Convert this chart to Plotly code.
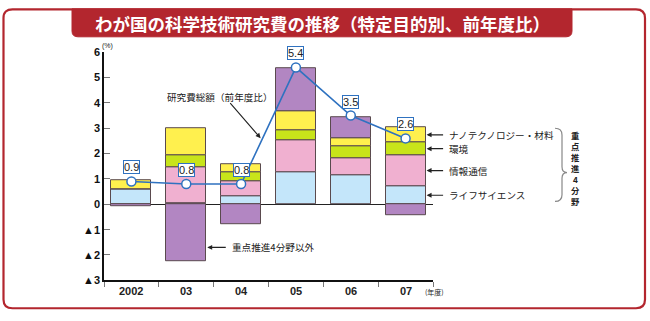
import plotly.graph_objects as go

W, H = 650, 321

years = ["2002", "03", "04", "05", "06", "07"]
life = [0.60, 0.05, 0.30, 1.28, 1.13, 0.72]
info = [0.00, 1.40, 0.62, 1.23, 0.70, 1.22]
env = [0.00, 0.50, 0.33, 0.42, 0.48, 0.51]
nano = [0.35, 1.05, 0.33, 0.75, 0.30, 0.58]
other = [-0.07, -2.25, -0.80, 1.68, 0.84, -0.43]
total = [0.9, 0.8, 0.8, 5.4, 3.5, 2.6]
total_labels = ["0.9", "0.8", "0.8", "5.4", "3.5", "2.6"]
ytick_vals = [-3, -2, -1, 0, 1, 2, 3, 4, 5, 6]
ytick_text = ["▲3", "▲2", "▲1", "0", "1", "2", "3", "4", "5", "6"]
seg_names = ["ライフサイエンス", "情報通信", "環境", "ナノテクノロジー・材料"]

C_LIFE, C_INFO, C_ENV, C_NANO, C_OTHER = "#c4e6fa", "#f0b0d0", "#c8e41a", "#fff04e", "#b286c2"
RED = "#b3262e"
BLUE = "#2f72c0"
EDGE = "#5a4a4e"
BARW = 0.73
JP = "Noto Sans CJK JP"
LAT = "Liberation Sans, DejaVu Sans, Arial"

def px(x):
    return x / W

def py(y):
    return 1 - y / H

xs = list(range(len(years)))
fig = go.Figure()
for vals, col in [(life, C_LIFE), (info, C_INFO), (env, C_ENV), (nano, C_NANO), (other, C_OTHER)]:
    fig.add_trace(go.Bar(x=xs, y=vals, width=BARW, marker=dict(color=col, line=dict(color=EDGE, width=1)),
                         showlegend=False, hoverinfo="skip"))
fig.add_trace(go.Scatter(x=xs, y=total, mode="lines+markers",
                         line=dict(color=BLUE, width=1.6),
                         marker=dict(size=9, color="white", line=dict(color=BLUE, width=1.5)),
                         showlegend=False, hoverinfo="skip"))

def A(**kw):
    kw.setdefault("xanchor", "center")
    kw.setdefault("yanchor", "middle")
    return kw

ann = []
for i, (v, t) in enumerate(zip(total, total_labels)):
    ann.append(A(x=i, y=v, xref="x", yref="y", text=t, showarrow=False, yshift=14,
                 font=dict(family=LAT, size=11, color="#222"),
                 bgcolor="white", bordercolor=BLUE, borderwidth=1, borderpad=0))
for i, y in enumerate(years):
    ann.append(A(x=i, y=py(296), xref="x", yref="paper", text="<b>" + y + "</b>", showarrow=False,
                 font=dict(family=LAT, size=11, color="#222")))
ann.append(A(x=px(423), y=py(297), xref="paper", yref="paper", text="(年度)", showarrow=False,
             xanchor="left", font=dict(family=JP, size=7, color="#222")))
ann.append(A(x=px(100), y=py(42), xref="paper", yref="paper", text="(%)", showarrow=False,
             xanchor="left", font=dict(family=LAT, size=7, color="#222")))

# right-side labels pointing to 07 segments
last = len(years) - 1
segs = [life[last], info[last], env[last], nano[last]]
base = 0
mids = []
for s in segs:
    mids.append(base + s / 2)
    base += s
for name, m in zip(seg_names, mids):
    ann.append(A(x=last + BARW / 2, y=m, xref="x", yref="y", text="", showarrow=True,
                 ax=19, ay=0, arrowhead=2, arrowsize=0.9, arrowwidth=1.1, arrowcolor="#222", standoff=1))
    ann.append(A(x=last + BARW / 2, y=m, xref="x", yref="y", text=name, showarrow=False,
                 xanchor="left", xshift=21,
                 font=dict(family=JP, size=9.6, color="#222")))

# 研究費総額 arrow
t = 0.38
ann.append(A(x=2 + t, y=total[2] + t * (total[3] - total[2]), xref="x", yref="y", text="",
             showarrow=True, ax=-33, ay=-38, arrowhead=2, arrowsize=0.9, arrowwidth=1.1,
             arrowcolor="#222", standoff=2))
ann.append(A(x=px(220), y=py(95), xref="paper", yref="paper", text="研究費総額（前年度比）",
             showarrow=False, font=dict(family=JP, size=9.6, color="#222")))
# 重点推進4分野以外
ann.append(A(x=1 + BARW / 2, y=-1.7, xref="x", yref="y", text="", showarrow=True, ax=21, ay=0,
             arrowhead=2, arrowsize=0.9, arrowwidth=1.1, arrowcolor="#222", standoff=1))
ann.append(A(x=1 + BARW / 2, y=-1.7, xref="x", yref="y", text="重点推進4分野以外", showarrow=False,
             xanchor="left", xshift=24, font=dict(family=JP, size=9.6, color="#222")))
# vertical text
for k, ch in enumerate("重点推進4分野"):
    ann.append(A(x=px(575), y=py(134.5 + 11.3 * k), xref="paper", yref="paper", text="<b>" + ch + "</b>",
                 showarrow=False, borderpad=0, font=dict(family=JP, size=8.3, color="#222")))
# title
ann.append(A(x=px(322), y=py(18), xref="paper", yref="paper",
             text="<b>わが国の科学技術研究費の推移（特定目的別、前年度比）</b>",
             showarrow=False, font=dict(family=JP, size=17.5, color="white")))

def P(x, y):
    return f"{px(x):.5f},{py(y):.5f}"

shapes = []
r = 9
L, T, R, B = 3.5, 3.5, 645, 314
border = (f"M {P(L, T + r)} Q {P(L, T)} {P(L + r, T)} L {P(R - r, T)} Q {P(R, T)} {P(R, T + r)} "
          f"L {P(R, B - r)} Q {P(R, B)} {P(R - r, B)} L {P(L + r, B)} Q {P(L, B)} {P(L, B - r)} Z")
shapes.append(dict(type="path", path=border, xref="paper", yref="paper", layer="below",
                   line=dict(color=RED, width=2.2)))
bl, br, bt, bb, rr = 72, 572, 3, 32, 6
banner = (f"M {P(bl, bt)} L {P(br, bt)} L {P(br, bb - rr)} Q {P(br, bb)} {P(br - rr, bb)} "
          f"L {P(bl + rr, bb)} Q {P(bl, bb)} {P(bl, bb - rr)} Z")
shapes.append(dict(type="path", path=banner, xref="paper", yref="paper", layer="below",
                   fillcolor=RED, line=dict(color=RED, width=1)))
bx = 562
br_path = (f"M {P(555, 127)} Q {P(bx, 127)} {P(bx, 134)} L {P(bx, 167)} Q {P(bx, 173)} {P(567, 173)} "
           f"Q {P(bx, 173)} {P(bx, 179)} L {P(bx, 196)} Q {P(bx, 203)} {P(555, 203)}")
shapes.append(dict(type="path", path=br_path, xref="paper", yref="paper", line=dict(color="#888", width=1.2)))

fig.update_layout(
    width=W, height=H, margin=dict(l=0, r=0, t=0, b=0),
    paper_bgcolor="white", plot_bgcolor="rgba(0,0,0,0)",
    barmode="relative", bargap=0,
    xaxis=dict(domain=[px(104), px(433)], range=[-0.5, 5.5], tickvals=[-0.5, 0.5, 1.5, 2.5, 3.5, 4.5, 5.5],
               ticktext=[""] * 7, ticks="outside", ticklen=5, tickcolor="#777", showline=True,
               linecolor="#111", linewidth=1.5, showgrid=False, zeroline=False, fixedrange=True),
    yaxis=dict(domain=[py(285), py(48)], range=[-3, 6], tickvals=ytick_vals, ticktext=ytick_text,
               ticks="inside", ticklen=6, tickcolor="#777", showline=True, linecolor="#111", linewidth=1.5,
               showgrid=False, zeroline=True, zerolinecolor="#222", zerolinewidth=1,
               tickfont=dict(family=LAT, size=11, color="#111", weight="bold"),
               fixedrange=True),
    annotations=ann, shapes=shapes,
)
fig.write_html("out.html")
